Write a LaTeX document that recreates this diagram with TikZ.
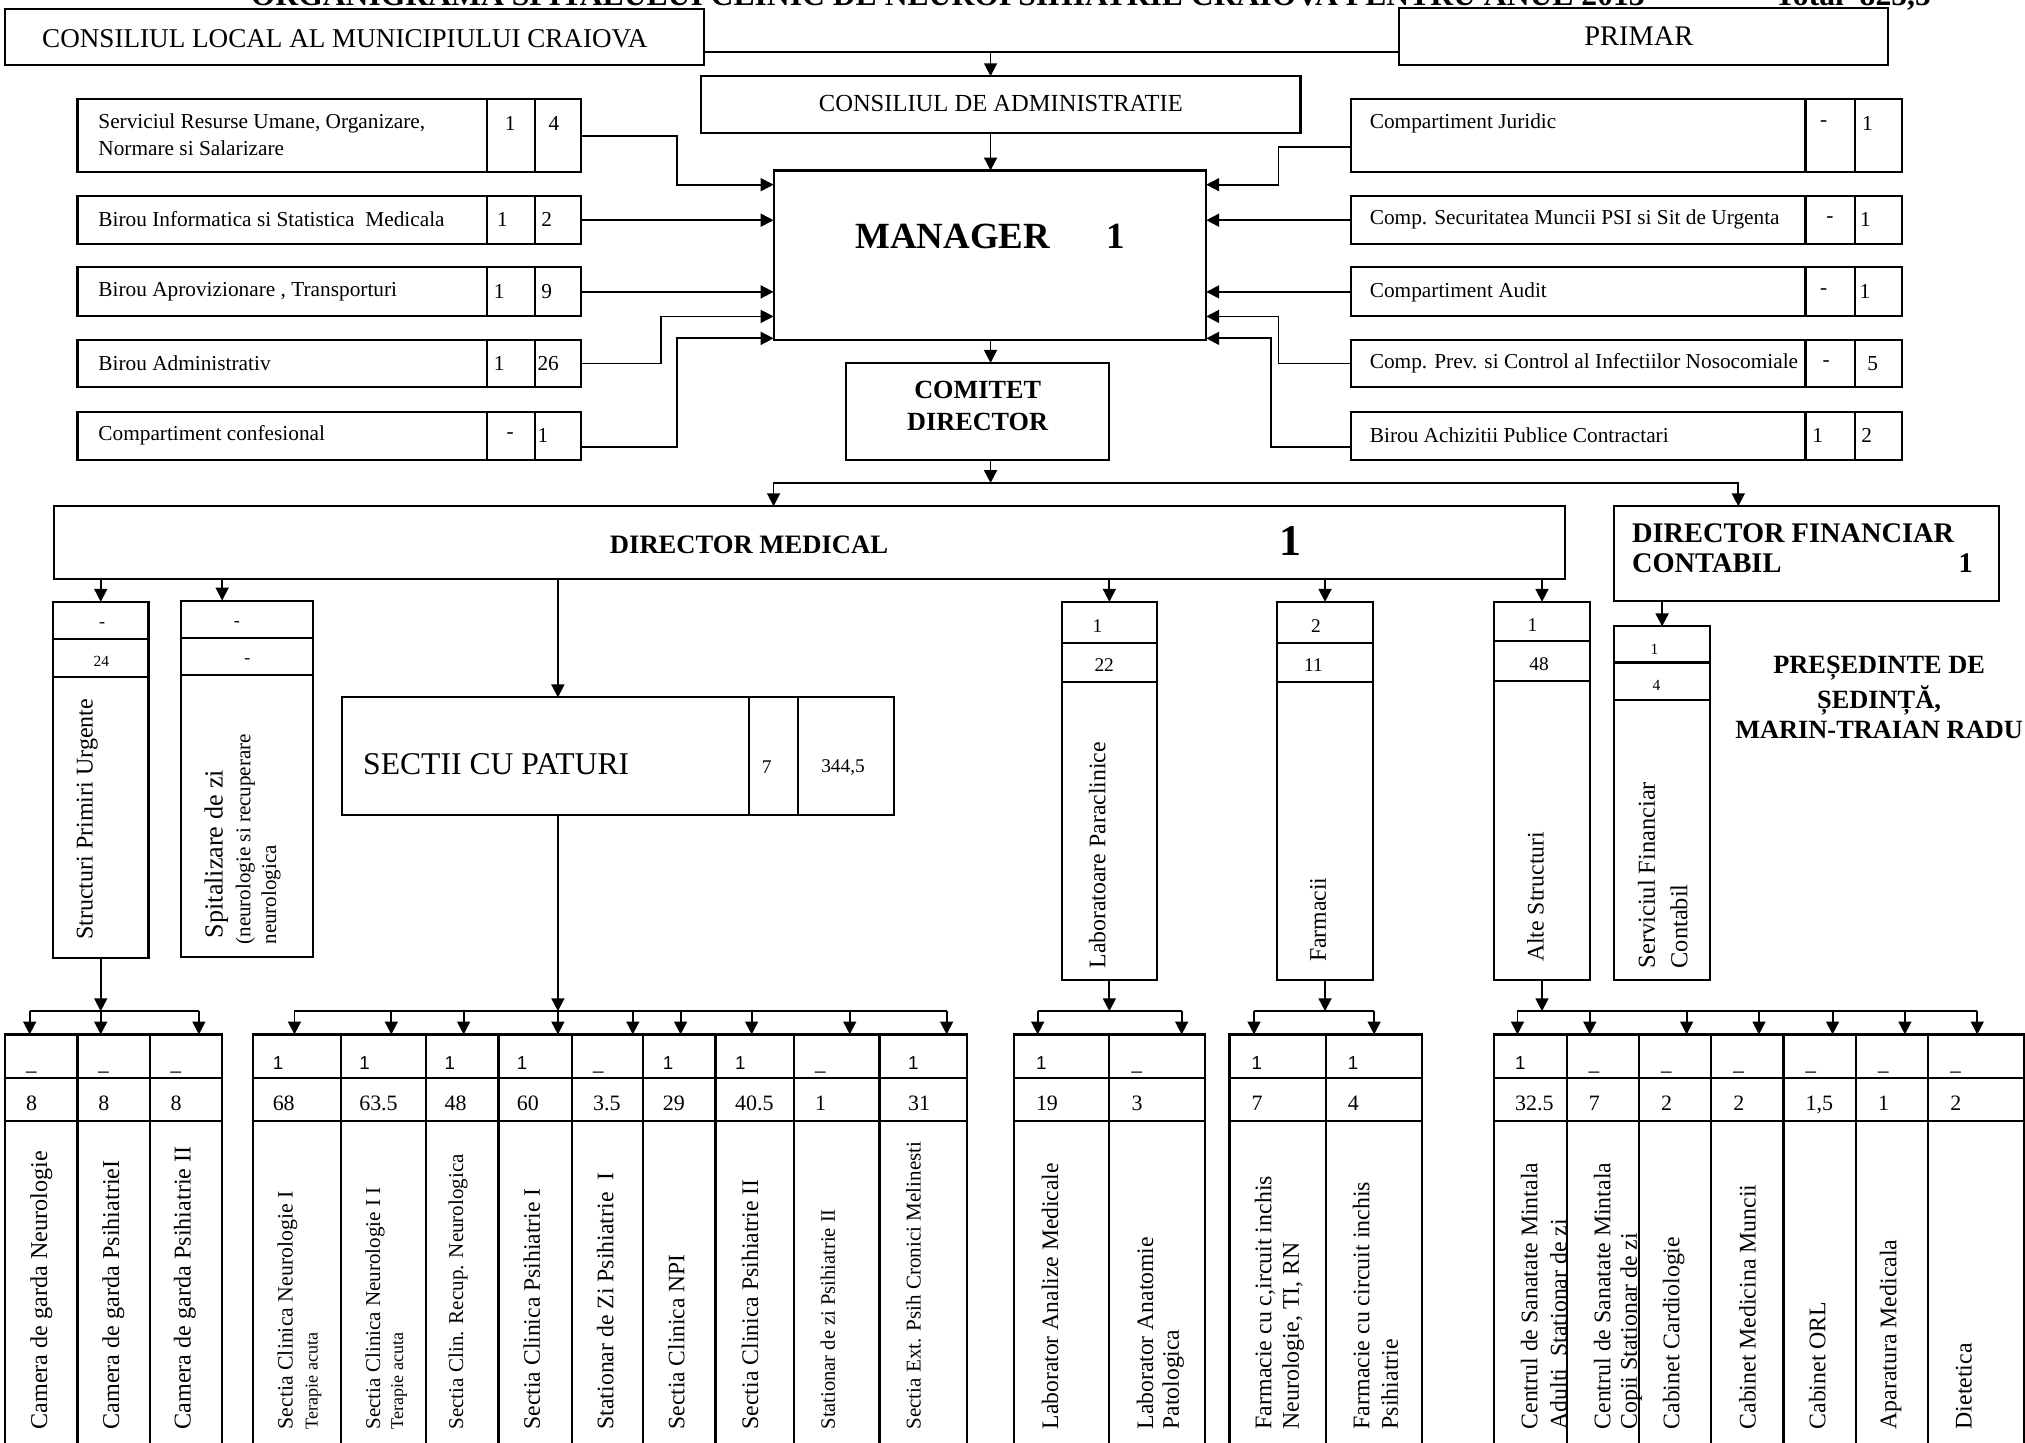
\documentclass[tikz,border=0pt]{standalone}
\usepackage{fontspec}
\setmainfont{Liberation Serif}
\setsansfont{Liberation Sans}
\usetikzlibrary{arrows.meta}
\newcommand\fz[1]{\fontsize{#1}{#1}\selectfont}
\newcommand\BX[5]{\node[bx, minimum width={#4-#2}, minimum height={#5-#3}] (#1) at (#2,#3) {};}
\newcommand\CELL[6]{%
 \BX{#1a}{#2}{801}{#3}{835}\BX{#1b}{#2}{835}{#3}{868}\BX{#1c}{#2}{868}{#3}{1140}%
 \node[r1t] (#1t) at (#2+#6,828) {#4};%
 \node[r2t] (#1u) at (#2+#6,860) {#5};}
\newcommand\VT[5]{\node[vt, font=\fz{#4}] (#1) at (#2,#3) {#5};}
\tikzset{
 bx/.style={draw, line width=1.6pt, inner sep=0pt, outer sep=0pt, anchor=north west},
 tx/.style={inner sep=0pt},
 r1t/.style={anchor=base west, inner sep=0pt, font=\sffamily\fz{14.5}},
 r2t/.style={anchor=base west, inner sep=0pt, font=\fz{17}},
 vt/.style={rotate=90, anchor=west, inner sep=0pt},
 ln/.style={line width=1.4pt},
 arr/.style={ln, -{Triangle[length=10pt,width=10pt]}},
 sm/.style={tx, font=\fz{16.5}},
 smw/.style={tx, anchor=west, font=\fz{16.5}}
}
\begin{document}
\begin{tikzpicture}[x=1pt,y=-1pt]
\useasboundingbox (0,0) rectangle (1568,1117);
\clip (0,0) rectangle (1568,1117);
% title
\node[tx, anchor=base west, font=\bfseries\fz{24.5}] (title) at (194,4) {ORGANIGRAMA SPITALULUI CLINIC DE NEUROPSIHIATRIE CRAIOVA PENTRU ANUL 2013};
\node[tx, anchor=base west, font=\bfseries\fz{24.5}] (total) at (1374,4) {Total\ \ 825,5};
% top boxes
\BX{cl}{4}{7}{545}{50}
\node[tx, font=\fz{21}] (clt) at (267,30) {CONSILIUL LOCAL AL MUNICIPIULUI CRAIOVA};
\BX{pr}{1083}{6}{1462}{50}
\node[tx, font=\fz{22}] (prt) at (1269,28) {PRIMAR};
\BX{ca}{543}{59}{1007}{103}
\node[tx, font=\fz{19}] (cat) at (775,80) {CONSILIUL DE ADMINISTRATIE};
\BX{mgr}{599}{132}{934}{263}
\node[tx, anchor=west, font=\bfseries\fz{28.6}] (mgrt) at (662,183) {MANAGER};
\node[tx, font=\bfseries\fz{28.6}] (mgrn) at (864,183) {1};
\coordinate (j1) at (767,40);
\draw[ln] (cl.east |- j1) -- (pr.west |- j1);
\draw[arr] (j1) -- (ca.north -| j1);
\draw[arr] (ca.south -| j1) -- (mgr.north -| j1);
% left staff boxes
\BX{l1a}{60}{77}{377}{133}\BX{l1b}{377}{77}{414}{133}\BX{l1c}{414}{77}{450}{133}
\BX{l2a}{60}{152}{377}{189}\BX{l2b}{377}{152}{414}{189}\BX{l2c}{414}{152}{450}{189}
\BX{l3a}{60}{207}{377}{245}\BX{l3b}{377}{207}{414}{245}\BX{l3c}{414}{207}{450}{245}
\BX{l4a}{60}{263}{377}{300}\BX{l4b}{377}{263}{414}{300}\BX{l4c}{414}{263}{450}{300}
\BX{l5a}{60}{319}{377}{356}\BX{l5b}{377}{319}{414}{356}\BX{l5c}{414}{319}{450}{356}
\node[smw] (l1t1) at (76,95.5) {Serviciul Resurse Umane, Organizare,};
\node[smw] (l1t2) at (76,114.8) {Normare si Salarizare};
\node[sm] (l1n1) at (395,95.5) {1};\node[sm] (l1n2) at (429,95.5) {4};
\node[smw] (l2t) at (76,170) {Birou Informatica si Statistica\ \ Medicala};
\node[sm] (l2n1) at (389,170) {1};\node[smw] (l2n2) at (419,170) {2};
\node[smw] (l3t) at (76,226) {Birou Aprovizionare , Transporturi};
\node[sm] (l3n1) at (386.5,226) {1};\node[smw] (l3n2) at (419,226) {9};
\node[smw] (l4t) at (76,281.5) {Birou Administrativ};
\node[sm] (l4n1) at (386.5,281.5) {1};\node[smw] (l4n2) at (416,281.5) {26};
\node[smw] (l5t) at (76,337) {Compartiment confesional};
\node[sm] (l5n1) at (395,337) {-};\node[smw] (l5n2) at (416,337) {1};
\draw[arr] (l1c.east) -| (524,143) -- (mgr.west |- 0,143);
\draw[arr] (l2c.east) -- (mgr.west |- l2c.east);
\draw[arr] (l3c.east) -- (mgr.west |- l3c.east);
\draw[arr] (l4c.east) -| (512,245) -- (mgr.west |- 0,245);
\draw[arr] (l5c.east |- 0,346) -| (524,262) -- (mgr.west |- 0,262);
% right staff boxes
\BX{r1a}{1046}{77}{1398}{133}\BX{r1b}{1398}{77}{1436}{133}\BX{r1c}{1436}{77}{1473}{133}
\BX{r2a}{1046}{152}{1398}{189}\BX{r2b}{1398}{152}{1436}{189}\BX{r2c}{1436}{152}{1473}{189}
\BX{r3a}{1046}{207}{1398}{245}\BX{r3b}{1398}{207}{1436}{245}\BX{r3c}{1436}{207}{1473}{245}
\BX{r4a}{1046}{263}{1398}{300}\BX{r4b}{1398}{263}{1436}{300}\BX{r4c}{1436}{263}{1473}{300}
\BX{r5a}{1046}{319}{1398}{356}\BX{r5b}{1398}{319}{1436}{356}\BX{r5c}{1436}{319}{1473}{356}
\node[smw] (r1t) at (1060.5,95.5) {Compartiment Juridic};
\node[sm] (r1n1) at (1412,95.5) {-};\node[sm] (r1n2) at (1446,95.5) {1};
\node[smw] (r2t) at (1060.5,170) {Comp. Securitatea Muncii PSI si Sit de Urgenta};
\node[sm] (r2n1) at (1417,170) {-};\node[sm] (r2n2) at (1444.5,170) {1};
\node[smw] (r3t) at (1060.5,226) {Compartiment Audit};
\node[sm] (r3n1) at (1412,226) {-};\node[sm] (r3n2) at (1444,226) {1};
\node[smw] (r4t) at (1060.5,281.5) {Comp. Prev. si Control al Infectiilor Nosocomiale};
\node[sm] (r4n1) at (1414,281.5) {-};\node[sm] (r4n2) at (1450,281.5) {5};
\node[smw] (r5t) at (1060.5,337) {Birou Achizitii Publice Contractari};
\node[sm] (r5n1) at (1407.5,337) {1};\node[sm] (r5n2) at (1445.5,337) {2};
\draw[arr] (r1a.west |- 0,114) -| (990,143) -- (mgr.east |- 0,143);
\draw[arr] (r2a.west) -- (mgr.east |- r2a.west);
\draw[arr] (r3a.west) -- (mgr.east |- r3a.west);
\draw[arr] (r4a.west) -| (990,245) -- (mgr.east |- 0,245);
\draw[arr] (r5a.west |- 0,346) -| (984,262) -- (mgr.east |- 0,262);
% comitet director
\BX{cd}{655}{281}{859}{356}
\node[tx, font=\bfseries\fz{20.3}] (cdt1) at (757,302) {COMITET};
\node[tx, font=\bfseries\fz{20.3}] (cdt2) at (757,326.5) {DIRECTOR};
\draw[arr] (mgr.south -| j1) -- (cd.north -| j1);
\coordinate (j2) at (767,374);
\draw[arr] (cd.south -| j2) -- (j2);
% directors
\BX{dm}{42}{392}{1212}{448}
\node[tx, font=\bfseries\fz{20.6}] (dmt) at (580,422) {DIRECTOR MEDICAL};
\node[tx, font=\bfseries\fz{34}] (dmn) at (999.5,419) {1};
\BX{df}{1250}{392}{1548}{465}
\node[tx, anchor=west, font=\bfseries\fz{22}] (dft1) at (1263.5,413) {DIRECTOR FINANCIAR};
\node[tx, anchor=west, font=\bfseries\fz{22}] (dft2) at (1263.5,436) {CONTABIL};
\node[tx, font=\bfseries\fz{22}] (dfn) at (1522,436) {1};
\draw[ln] (j2 -| 599,0) -- (j2 -| 1346,0);
\draw[arr] (j2) -| (dm.north -| 599,0);
\draw[arr] (j2) -| (df.north -| 1346,0);
% second level columns
\BX{spu1}{41}{466}{115}{495}\BX{spu2}{41}{495}{115}{524}\BX{spu3}{41}{524}{115}{742}
\node[tx, font=\fz{14}] (spun1) at (79,484) {-};
\node[tx, font=\fz{12}] (spun2) at (78.5,512) {24};
\VT{sputx}{67.5}{728}{18.6}{Structuri Primiri Urgente}
\BX{sp1}{140}{465}{242}{494}\BX{sp2}{140}{494}{242}{523}\BX{sp3}{140}{523}{242}{741}
\node[tx, font=\fz{14}] (spn1) at (183.5,483) {-};
\node[tx, font=\fz{14}] (spn2) at (191.5,511.5) {-};
\VT{sptx1}{167.5}{726.5}{20.2}{Spitalizare de zi}
\VT{sptx2}{190}{731.5}{16.3}{(neurologie si recuperare}
\VT{sptx3}{210}{731.5}{16.3}{neurologica}
\BX{sc1}{265}{540}{580}{631}\BX{sc2}{580}{540}{618}{631}\BX{sc3}{618}{540}{692}{631}
\node[tx, anchor=west, font=\fz{24.5}] (sct) at (281,592) {SECTII CU PATURI};
\node[tx, font=\fz{15}] (scn1) at (593.7,594) {7};
\node[tx, font=\fz{15}] (scn2) at (652.8,594) {344,5};
\BX{lb1}{822}{466}{896}{498}\BX{lb2}{822}{498}{896}{528}\BX{lb3}{822}{528}{896}{759}
\node[tx, font=\fz{15}] (lbn1) at (849.7,485) {1};
\node[tx, font=\fz{15}] (lbn2) at (855,515) {22};
\VT{lbtx}{849.7}{750}{18.4}{Laboratoare Paraclinice}
\BX{fm1}{989}{466}{1063}{498}\BX{fm2}{989}{498}{1063}{528}\BX{fm3}{989}{528}{1063}{759}
\node[tx, font=\fz{15}] (fmn1) at (1019,485) {2};
\node[tx, font=\fz{15}] (fmn2) at (1017,515) {11};
\VT{fmtx}{1020.7}{745}{18.4}{Farmacii}
\BX{al1}{1157}{466}{1231}{496}\BX{al2}{1157}{496}{1231}{527}\BX{al3}{1157}{527}{1231}{759}
\node[tx, font=\fz{15}] (aln1) at (1186.6,484) {1};
\node[tx, font=\fz{15}] (aln2) at (1191.7,514) {48};
\VT{altx}{1189}{745}{18.4}{Alte Structuri}
\BX{sf1}{1250}{485}{1324}{513}\BX{sf2}{1250}{513}{1324}{542}\BX{sf3}{1250}{542}{1324}{759}
\node[tx, font=\fz{12}] (sfn1) at (1281,502.8) {1};
\node[tx, font=\fz{12}] (sfn2) at (1282.6,530.4) {4};
\VT{sftx1}{1275}{750}{18.9}{Serviciul Financiar}
\VT{sftx2}{1300}{750}{18.9}{Contabil}
\node[tx, font=\bfseries\fz{20.4}] (ps1) at (1455,517.5) {PREȘEDINTE DE};
\node[tx, font=\bfseries\fz{20.4}] (ps2) at (1455,542) {ȘEDINȚĂ,};
\node[tx, font=\bfseries\fz{20.4}] (ps3) at (1455,565) {MARIN-TRAIAN RADU};
\draw[arr] (dm.south -| spu1.north) -- (spu1.north);
\draw[arr] (dm.south -| 172,0) -- (sp1.north -| 172,0);
\draw[arr] (dm.south -| 432,0) -- (sc1.north -| 432,0);
\draw[arr] (dm.south -| lb1.north) -- (lb1.north);
\draw[arr] (dm.south -| fm1.north) -- (fm1.north);
\draw[arr] (dm.south -| al1.north) -- (al1.north);
\draw[arr] (df.south -| sf1.north) -- (sf1.north);
% bottom table
\CELL{ga}{4}{60}{\_}{8}{16}\CELL{gb}{60}{116}{\_}{8}{16}\CELL{gc}{116}{172}{\_}{8}{16}
\VT{gatx}{32}{1107}{18.7}{Camera de garda Neurologie}
\VT{gbtx}{87.7}{1107}{18.7}{Camera de garda PsihiatrieI}
\VT{gctx}{143.2}{1107}{18.7}{Camera de garda Psihiatrie II}
\CELL{sa}{196}{264}{1}{68}{15}\CELL{sb}{264}{330}{1}{63.5}{14}\CELL{sc}{330}{386}{1}{48}{14}
\CELL{sd}{386}{443}{1}{60}{14}\CELL{se}{443}{498}{\_}{3.5}{16}\CELL{sf}{498}{554}{1}{29}{15}
\CELL{sg}{554}{615}{1}{40.5}{15}\CELL{sh}{615}{681}{\_}{1}{16}\CELL{si}{681}{749}{1}{31}{22}
\VT{satx1}{222.5}{1107}{16.9}{Sectia Clinica Neurologie I}
\VT{satx2}{242.7}{1107}{14}{Terapie acuta}
\VT{sbtx1}{290.5}{1107}{16.3}{Sectia Clinica Neurologie I I}
\VT{sbtx2}{309}{1107}{14}{Terapie acuta}
\VT{sctx}{354.8}{1107}{16.3}{Sectia Clin. Recup. Neurologica}
\VT{sdtx}{411.7}{1107}{18.3}{Sectia Clinica Psihiatrie I}
\VT{setx}{468.7}{1107}{18.4}{Stationar de Zi Psihiatrie\ \ I}
\VT{sftx}{523.7}{1107}{18.2}{Sectia Clinica NPI}
\VT{sgtx}{580.7}{1107}{18.4}{Sectia Clinica Psihiatrie II}
\VT{shtx}{641}{1107}{15.9}{Stationar de zi Psihiatrie II}
\VT{sitx}{707.4}{1107}{16.3}{Sectia Ext. Psih Cronici Melinesti}
\CELL{la}{785}{859}{1}{19}{17}\CELL{lc}{859}{933}{\_}{3}{17}
\VT{latx}{813}{1107}{18.3}{Laborator Analize Medicale}
\VT{lctx1}{886.6}{1107}{18.3}{Laborator Anatomie}
\VT{lctx2}{908.4}{1107}{18.3}{Patologica}
\CELL{fa}{952}{1026.5}{1}{7}{17}\CELL{fb}{1026.5}{1101}{1}{4}{17}
\VT{fatx1}{979.5}{1107}{18.5}{Farmacie cu c,ircuit inchis}
\VT{fatx2}{1001.3}{1107}{18.5}{Neurologie, TI, RN}
\VT{fbtx1}{1054}{1107}{18.5}{Farmacie cu circuit inchis}
\VT{fbtx2}{1076}{1107}{18.5}{Psihiatrie}
\CELL{aa}{1157}{1213}{1}{32.5}{16}\CELL{ab}{1213}{1269}{\_}{7}{17}\CELL{ac}{1269}{1325}{\_}{2}{17}
\CELL{ad}{1325}{1381}{\_}{2}{17}\CELL{ae}{1381}{1437}{\_}{1,5}{17}\CELL{af}{1437}{1493}{\_}{1}{17}
\CELL{ag}{1493}{1567}{\_}{2}{17}
\VT{aatx1}{1184}{1107}{18.45}{Centrul de Sanatate Mintala}
\VT{aatx2}{1206.8}{1107}{18.45}{Adulti\ \ Stationar de zi}
\VT{abtx1}{1240.7}{1107}{18.45}{Centrul de Sanatate Mintala}
\VT{abtx2}{1263}{1107}{18.45}{Copii Stationar de zi}
\VT{actx}{1296}{1107}{18.45}{Cabinet Cardiologie}
\VT{adtx}{1353}{1107}{18.45}{Cabinet Medicina Muncii}
\VT{aetx}{1407}{1107}{18.45}{Cabinet ORL}
\VT{aftx}{1464}{1107}{18.45}{Aparatura Medicala}
\VT{agtx}{1520.7}{1107}{18.45}{Dietetica}
% buses
\coordinate (b1) at (78,783);
\draw[arr] (spu3.south) -- (b1);
\draw[ln] (b1 -| 23,0) -- (b1 -| 154,0);
\foreach \xx/\nn in {23/ga,78/gb,154/gc} {\draw[arr] (b1 -| \xx,0) -- (\nn a.north -| \xx,0);}
\coordinate (b2) at (432,783);
\draw[arr] (sc1.south -| b2) -- (b2);
\draw[ln] (b2 -| 228,0) -- (b2 -| 733,0);
\foreach \xx/\nn in {228/sa,303/sb,359/sc,432/sd,490/se,527/sf,582/sg,658/sh,733/si} {\draw[arr] (b2 -| \xx,0) -- (\nn a.north -| \xx,0);}
\coordinate (b3) at (859,783);
\draw[arr] (lb3.south) -- (b3);
\draw[ln] (b3 -| 803.5,0) -- (b3 -| 915,0);
\foreach \xx/\nn in {803.5/la,915/lc} {\draw[arr] (b3 -| \xx,0) -- (\nn a.north -| \xx,0);}
\coordinate (b4) at (1026,783);
\draw[arr] (fm3.south) -- (b4);
\draw[ln] (b4 -| 971,0) -- (b4 -| 1064,0);
\foreach \xx/\nn in {971/fa,1064/fb} {\draw[arr] (b4 -| \xx,0) -- (\nn a.north -| \xx,0);}
\coordinate (b5) at (1194,783);
\draw[arr] (al3.south) -- (b5);
\draw[ln] (b5 -| 1175,0) -- (b5 -| 1531,0);
\foreach \xx/\nn in {1175/aa,1231/ab,1306/ac,1362/ad,1419/ae,1475/af,1531/ag} {\draw[arr] (b5 -| \xx,0) -- (\nn a.north -| \xx,0);}
\end{tikzpicture}
\end{document}
